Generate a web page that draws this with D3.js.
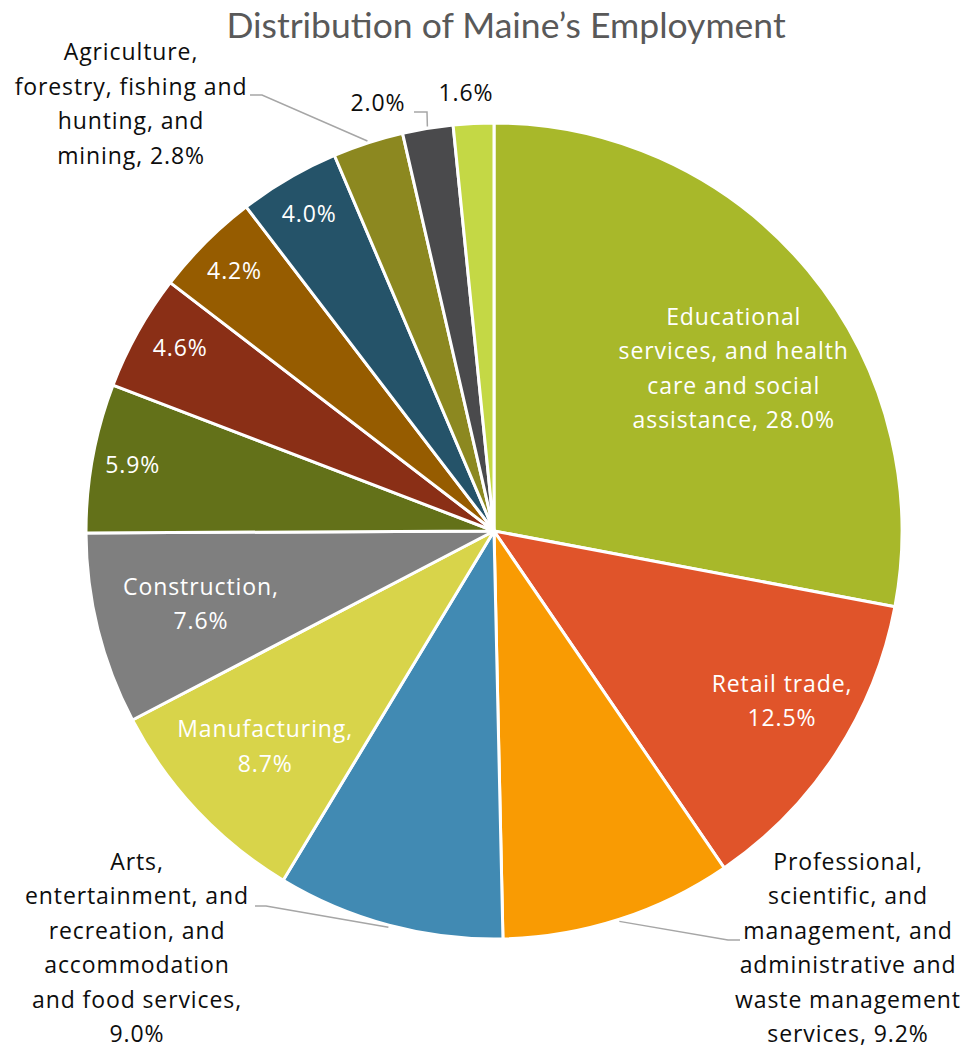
<!DOCTYPE html>
<html>
<head>
<meta charset="utf-8">
<script src="https://cdn.jsdelivr.net/npm/d3@7"></script>
<style>
  body { margin: 0; background: #fff; }
  svg text { font-family: "Open Sans", Lato, sans-serif; }
</style>
</head>
<body>
<div id="chart"></div>
<script>
// Maine employment share by industry (percent), clockwise from 12 o'clock
var sectors = [
    'Educational services, and health care and social assistance',
    'Retail trade',
    'Professional, scientific, and management, and administrative and waste management services',
    'Arts, entertainment, and recreation, and accommodation and food services',
    'Manufacturing',
    'Construction',
    'Other 5.9',
    'Other 4.6',
    'Other 4.2',
    'Other 4.0',
    'Agriculture, forestry, fishing and hunting, and mining',
    'Other 2.0',
    'Other 1.6'
];
var shares = [28.0, 12.5, 9.2, 9.0, 8.7, 7.6, 5.9, 4.6, 4.2, 4.0, 2.8, 2.0, 1.6];
var colors = ['#a8b82a', '#e0542a', '#f99b03', '#418ab3', '#d8d44a', '#7f7f7f',
              '#637119', '#8a2f16', '#965c00', '#255369', '#8c8820', '#4a4a4c', '#c4d845'];
// how each data label is broken into lines
var labelLines = [
    ['Educational', 'services, and health', 'care and social', 'assistance, 28.0%'],
    ['Retail trade,', '12.5%'],
    ['Professional,', 'scientific, and', 'management, and', 'administrative and', 'waste management', 'services, 9.2%'],
    ['Arts,', 'entertainment, and', 'recreation, and', 'accommodation', 'and food services,', '9.0%'],
    ['Manufacturing,', '8.7%'],
    ['Construction,', '7.6%'],
    ['5.9%'], ['4.6%'], ['4.2%'], ['4.0%'],
    ['Agriculture,', 'forestry, fishing and', 'hunting, and', 'mining, 2.8%'],
    ['2.0%'], ['1.6%']
];

var width = 972, height = 1050;
var cx = 494, cy = 531, R = 408;
var lineH = 34.5;

// label placement: inside labels sit on a ring (k = radius fraction, da = angle nudge in deg)
// outside labels have an offset from the centre and a leader elbow
var placement = [
    {k: 0.71, da: 5.5},
    {k: 0.82, da: -2.6},
    {out: true, dx: 354, dy: 417, elbow: [[234, 409], [246, 409]]},
    {out: true, dx: -357, dy: 417, elbow: [[-228, 375], [-239, 375]]},
    {k: 0.77, da: 0},
    {k: 0.74, da: 0},
    {k: 0.90, da: 0},
    {k: 0.89, da: 1},
    {k: 0.90, da: 0},
    {k: 0.90, da: 0},
    {out: true, dx: -363, dy: -427, elbow: [[-232, -436], [-244, -436]]},
    {out: true, dx: -116, dy: -428, elbow: [[-67, -419], [-80, -419]]},
    {out: true, dx: -28, dy: -438}
];

var svg = d3.select('#chart').append('svg')
    .attr('width', width)
    .attr('height', height);

svg.append('text')
    .attr('x', 506)
    .attr('y', 38)
    .attr('text-anchor', 'middle')
    .attr('fill', '#595959')
    .style('font-family', 'Lato, sans-serif')
    .style('font-size', '35.5px')
    .text('Distribution of Maine\u2019s Employment');

var pie = d3.pie().sort(null).value(function(d) { return d; });
var arcs = pie(shares);
var arc = d3.arc().innerRadius(0).outerRadius(R);

var g = svg.append('g').attr('transform', 'translate(' + cx + ',' + cy + ')');

g.selectAll('path.slice').data(arcs).enter().append('path')
    .attr('class', 'slice')
    .attr('d', arc)
    .attr('fill', function(d, i) { return colors[i]; })
    .attr('stroke', '#fff')
    .attr('stroke-width', 3)
    .attr('stroke-linejoin', 'round');

function polar(angle, r) {
    return [r * Math.sin(angle), -r * Math.cos(angle)];
}

// leader lines for outside labels
arcs.forEach(function(d, i) {
    var p = placement[i];
    if (!p.out || !p.elbow) return;
    var mid = (d.startAngle + d.endAngle) / 2;
    var pts = [polar(mid, R + 2)].concat(p.elbow);
    g.append('path')
        .attr('d', d3.line()(pts))
        .attr('fill', 'none')
        .attr('stroke', '#a6a6a6')
        .attr('stroke-width', 1.5);
});

arcs.forEach(function(d, i) {
    var p = placement[i];
    var x, y;
    if (p.out) {
        x = p.dx; y = p.dy;
    } else {
        var mid = (d.startAngle + d.endAngle) / 2 + p.da * Math.PI / 180;
        var c = polar(mid, R * p.k);
        x = c[0]; y = c[1];
    }
    var lines = labelLines[i];
    var t = g.append('text')
        .attr('text-anchor', 'middle')
        .attr('fill', p.out ? '#0d0d0d' : '#fff')
        .style('font-size', '23px')
        .style('letter-spacing', '0.9px');
    var y0 = y - (lines.length - 1) * lineH / 2;
    lines.forEach(function(line, j) {
        t.append('tspan')
            .attr('x', x)
            .attr('y', y0 + j * lineH)
            .attr('dy', '0.35em')
            .text(line);
    });
});
</script>
</body>
</html>
